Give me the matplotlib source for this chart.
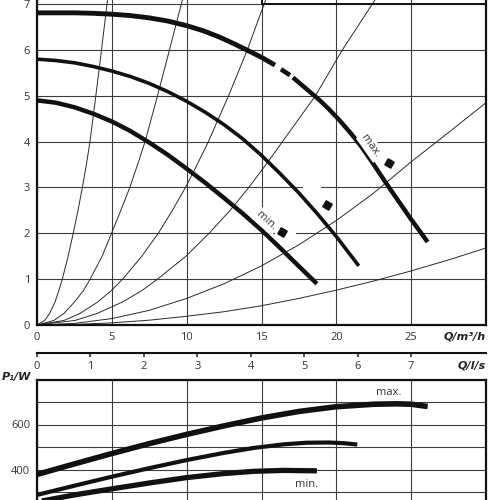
import numpy as np
import matplotlib
matplotlib.use("Agg")
from matplotlib import pyplot as plt
from matplotlib.patches import Rectangle

# ---- pump curves H(Q) (Q in m3/h, H in m)
max_q = [0, 1.25, 2.5, 3.75, 5, 6.25, 7.5, 8.75, 10, 11.1, 12.2, 13.2, 14.2, 15, 15.9,
         16.3, 16.9,
         17.1, 18, 18.9, 19.5, 20.2, 21, 21.7, 22.5, 23.5, 24.2, 24.9, 25.5, 26.1]
max_h = [6.81, 6.81, 6.81, 6.8, 6.78, 6.75, 6.7, 6.63, 6.53, 6.42, 6.28, 6.13, 5.97, 5.84, 5.67,
         5.58, 5.45,
         5.4, 5.15, 4.9, 4.71, 4.47, 4.17, 3.88, 3.5, 3.01, 2.68, 2.35, 2.08, 1.81]
mid_q = [0, 1.25, 2.5, 3.75, 5, 6.25, 7.5, 8.75, 10, 11.25, 12.5, 13.75, 15, 16.25, 17.5, 18.75, 20, 21.5]
mid_h = [5.8, 5.77, 5.72, 5.64, 5.54, 5.42, 5.27, 5.09, 4.88, 4.64, 4.37, 4.06, 3.7, 3.3, 2.88, 2.42, 1.93, 1.29]
min_q = [0, 1.25, 2.5, 3.75, 5, 6.25, 7.5, 8.75, 10, 11.25, 12.5, 13.75, 15, 16.25, 17.5, 18.7]
min_h = [4.9, 4.85, 4.75, 4.61, 4.44, 4.23, 3.98, 3.71, 3.41, 3.1, 2.77, 2.43, 2.07, 1.68, 1.28, 0.9]

# ---- system curves (thin lines), head levels and the flow read at each
sys_h = [0, 0.1, 0.25, 0.5, 0.75, 1, 1.5, 2, 2.5, 3, 3.5, 4, 5, 6, 7.2]
sys_a_q = [0, 0.52, 0.84, 1.2, 1.46, 1.69, 2.08, 2.42, 2.74, 3.03, 3.3, 3.54, 3.93, 4.31, 4.75]
sys_b_q = [0, 1.13, 1.79, 2.5, 3.1, 3.55, 4.35, 4.98, 5.6, 6.2, 6.72, 7.22, 8.05, 8.85, 9.8]
sys_c_q = [0, 1.81, 2.86, 4.05, 4.96, 5.72, 7.0, 8.1, 9.05, 9.92, 10.7, 11.45, 12.8, 14.05, 15.4]
sys_d_q = [0, 2.55, 4.0, 5.7, 7.0, 8.05, 9.95, 11.5, 12.9, 14.15, 15.3, 16.4, 18.6, 20.4, 22.8]
# flatter ones leave through the right edge: flow levels and the head read at each
sys_q = [0, 2.5, 5, 7.5, 10, 12.5, 15, 17.5, 20, 22.5, 25, 27.5, 30]
sys_e_h = [0, 0.035, 0.14, 0.32, 0.58, 0.9, 1.29, 1.75, 2.28, 2.88, 3.56, 4.2, 4.85]
sys_f_h = [0, 0.012, 0.047, 0.105, 0.19, 0.29, 0.42, 0.58, 0.76, 0.96, 1.18, 1.42, 1.68]

# ---- power curves P1(Q)
pmax_q = [0, 2.5, 5, 7.5, 10, 12.5, 15, 17.5, 20, 22.5, 24, 25, 26.1]
pmax_p = [378, 425, 471, 515, 556, 594, 629, 658, 679, 690, 692, 690, 680]
pmid_q = [0, 2.5, 5, 7.5, 10, 12.5, 14.5, 16.5, 18, 19.5, 20.5, 21.4]
pmid_p = [287, 328, 368, 406, 442, 474, 496, 512, 519, 520, 517, 511]
pmin_q = [0, 2.5, 5, 7.5, 10, 12.5, 14.5, 16.5, 18.7]
pmin_p = [256, 287, 314, 340, 364, 382, 392, 396, 394]

# speed markers on H(Q) chart
mark_q = [23.5, 19.4, 16.4]
mark_h = [3.53, 2.61, 2.03]

q_ticks = [0, 5, 10, 15, 20, 25]
h_ticks = [0, 1, 2, 3, 4, 5, 6, 7]
ls_ticks = [0, 1, 2, 3, 4, 5, 6, 7]
p_ticks = [200, 300, 400, 500, 600, 700, 800]
p_labels = ['', '', '400', '', '600', '', '']

plt.rcParams['font.family'] = ['Open Sans', 'DejaVu Sans']
txt = '#333333'
ink = '#111111'
grid_c = '#3c3c3c'

fig = plt.figure(figsize=(5, 5), dpi=100)

# ---------------- head chart
ax = fig.add_axes([37/500, 175/500, 449/500, 325/500])
ax.set_xlim(0, 30)
ax.set_ylim(0, 7.09)
ax.set_xticks(q_ticks + [30])
ax.set_xticklabels([str(v) for v in q_ticks] + [''])
ax.set_yticks(h_ticks)
ax.tick_params(length=0, labelsize=8, colors=txt, pad=5)
ax.grid(True, color=grid_c, lw=0.8)
ax.set_axisbelow(True)
for s in ['left', 'bottom', 'right']:
    ax.spines[s].set_linewidth(1.6)
    ax.spines[s].set_color(ink)
ax.spines['top'].set_visible(False)

# white gaps in the grid next to the speed markers
ax.add_patch(Rectangle((17.8, 2.93), 1.2, 0.14, fc='white', ec='none', zorder=1))
ax.add_patch(Rectangle((15.9, 1.93), 1.4, 0.14, fc='white', ec='none', zorder=1))

for q in [sys_a_q, sys_b_q, sys_c_q, sys_d_q]:
    ax.plot(q, sys_h, color='#2a2a2a', lw=0.7)
for h in [sys_e_h, sys_f_h]:
    ax.plot(sys_q, h, color='#2a2a2a', lw=0.7)

# max curve is interrupted around 16 m3/h
ax.plot(max_q[:15], max_h[:15], color=ink, lw=3.5, solid_capstyle='butt')
ax.plot(max_q[15:17], max_h[15:17], color=ink, lw=3.3, solid_capstyle='butt')
ax.plot(max_q[17:], max_h[17:], color=ink, lw=3.2, solid_capstyle='butt')
ax.plot(mid_q, mid_h, color=ink, lw=2.6, solid_capstyle='butt')
ax.plot(min_q, min_h, color=ink, lw=3.2, solid_capstyle='butt')

ax.plot(mark_q, mark_h, ls='none', marker=(4, 0, 15), ms=7, color=ink)
ax.text(22.3, 3.9, 'max.', rotation=-55, fontsize=8, color=txt, ha='center', va='center',
        bbox=dict(fc='white', ec='none', pad=1.5))
ax.text(15.3, 2.27, 'min.', rotation=-42, fontsize=8, color=txt, ha='center', va='center',
        bbox=dict(fc='white', ec='none', pad=1.5))

# box edge above the chart
ax.plot([15, 15, 30], [7.4, 7.0, 7.0], color=ink, lw=1.4, clip_on=False)

ax.text(1.0, -0.034, 'Q/m³/h', transform=ax.transAxes, ha='right', va='center',
        fontsize=8, fontweight='bold', style='italic', color='#222222', family='DejaVu Sans')

# ---------------- l/s scale
axq = fig.add_axes([37/500, 147/500, 449/500, 0.0001])
axq.set_xlim(0, 8.4)
axq.set_xticks(ls_ticks)
axq.set_yticks([])
for s in ['left', 'top', 'right']:
    axq.spines[s].set_visible(False)
axq.spines['bottom'].set_linewidth(1.5)
axq.spines['bottom'].set_color(ink)
axq.tick_params(axis='x', direction='out', length=3, width=1.2, labelsize=8, colors=txt, pad=3)
axq.patch.set_visible(False)
fig.text(486/500, 1 - 365/500, 'Q/l/s', ha='right', va='center', fontsize=8,
         fontweight='bold', style='italic', color='#222222', family='DejaVu Sans')

# ---------------- power chart
ax2 = fig.add_axes([37/500, -14.5/500, 449/500, 135/500])
ax2.set_xlim(0, 30)
ax2.set_ylim(200, 800)
ax2.set_xticks([0, 5, 10, 15, 20, 25, 30])
ax2.set_xticklabels([])
ax2.set_yticks(p_ticks)
ax2.set_yticklabels(p_labels)
ax2.tick_params(length=0, labelsize=8, colors=txt, pad=5)
ax2.grid(True, color=grid_c, lw=0.8)
ax2.set_axisbelow(True)
for s in ['left', 'top', 'right']:
    ax2.spines[s].set_linewidth(1.6)
    ax2.spines[s].set_color(ink)

ax2.plot(pmax_q, pmax_p, color=ink, lw=4.0, solid_capstyle='butt')
ax2.plot(pmid_q, pmid_p, color=ink, lw=3.0, solid_capstyle='butt')
ax2.plot(pmin_q, pmin_p, color=ink, lw=3.8, solid_capstyle='butt')
ax2.text(23.5, 742, 'max.', fontsize=8, color=txt, ha='center', va='center')
ax2.text(18.0, 332, 'min.', fontsize=8, color=txt, ha='center', va='center')

fig.text(2/500, 1 - 377/500, 'P₁/W', ha='left', va='center', fontsize=8,
         fontweight='bold', style='italic', color='#222222', family='DejaVu Sans')

fig.savefig('out.png', dpi=100)
